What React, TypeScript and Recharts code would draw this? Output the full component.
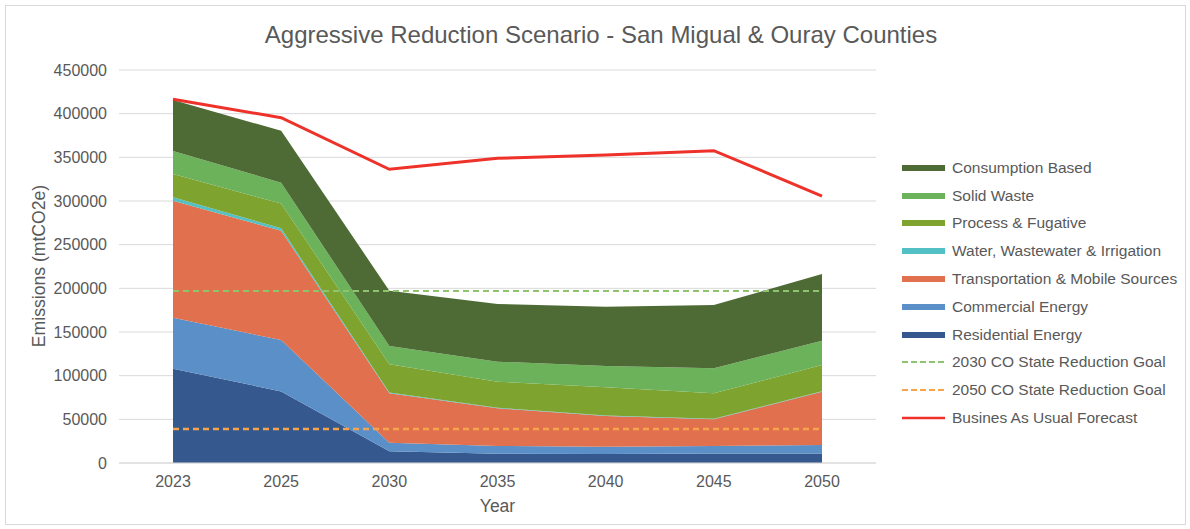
import React from "react";
import {
  ComposedChart,
  Area,
  Line,
  XAxis,
  YAxis,
  CartesianGrid,
  Legend,
  Label,
} from "recharts";

const years = ["2023", "2025", "2030", "2035", "2040", "2045", "2050"];
const residential = [108000, 82000, 13500, 10500, 10300, 11000, 11000];
const commercial = [58400, 58800, 9800, 9000, 8400, 8500, 9600];
const transportation = [133900, 125200, 56500, 43100, 35100, 30500, 61000];
const water = [4000, 2700, 800, 700, 700, 700, 700];
const processFug = [26700, 28300, 32400, 29800, 32200, 29100, 29900];
const solidWaste = [26200, 23900, 21000, 22900, 24400, 28600, 27800];
const consumption = [58500, 59400, 63300, 66000, 67900, 72500, 76400];
const bau = [416500, 395400, 336300, 348900, 352700, 357600, 305700];
const goal2030 = [197000, 197000, 197000, 197000, 197000, 197000, 197000];
const goal2050 = [39000, 39000, 39000, 39000, 39000, 39000, 39000];
const yTicks = [0, 50000, 100000, 150000, 200000, 250000, 300000, 350000, 400000, 450000];

const data = years.map((y, i) => ({
  year: y,
  residential: residential[i],
  commercial: commercial[i],
  transportation: transportation[i],
  water: water[i],
  process: processFug[i],
  solid: solidWaste[i],
  consumption: consumption[i],
  bau: bau[i],
  g2030: goal2030[i],
  g2050: goal2050[i],
}));

const FONT = '"Liberation Sans", Arial, sans-serif';
const TEXT = "#595959";

const legendItems = [
  { label: "Consumption Based", color: "#4E6B36", type: "area" },
  { label: "Solid Waste", color: "#6CB25A", type: "area" },
  { label: "Process & Fugative", color: "#7FA32F", type: "area" },
  { label: "Water, Wastewater & Irrigation", color: "#52C0C4", type: "area" },
  { label: "Transportation & Mobile Sources", color: "#E0704E", type: "area" },
  { label: "Commercial Energy", color: "#5A8FC8", type: "area" },
  { label: "Residential Energy", color: "#35598F", type: "area" },
  { label: "2030 CO State Reduction Goal", color: "#8DC46D", type: "dash" },
  { label: "2050 CO State Reduction Goal", color: "#F7A34C", type: "dash" },
  { label: "Busines As Usual Forecast", color: "#EE3129", type: "line" },
];

const renderLegend = () => (
  <div style={{ fontFamily: FONT, fontSize: 15.5, color: TEXT }}>
    {legendItems.map((it) => (
      <div
        key={it.label}
        style={{ display: "flex", alignItems: "center", height: 27.8, whiteSpace: "nowrap" }}
      >
        <svg width={46} height={10} style={{ marginRight: 5 }}>
          {it.type === "area" && <rect x={1} y={2} width={43} height={6} fill={it.color} />}
          {it.type === "dash" && (
            <line x1={1} y1={5} x2={44} y2={5} stroke={it.color} strokeWidth={2} strokeDasharray="6 3" />
          )}
          {it.type === "line" && <line x1={1} y1={5} x2={44} y2={5} stroke={it.color} strokeWidth={2.5} />}
        </svg>
        <span>{it.label}</span>
      </div>
    ))}
  </div>
);

export default function App() {
  return (
    <div
      style={{
        position: "absolute",
        left: 0,
        top: 0,
        width: 1190,
        height: 529,
        background: "#fff",
        fontFamily: FONT,
      }}
    >
      <div
        style={{
          position: "absolute",
          left: 5,
          top: 5,
          width: 1179,
          height: 518,
          border: "1px solid #D9D9D9",
        }}
      />
      <div
        style={{
          position: "absolute",
          left: 0,
          top: 21,
          width: 1202,
          textAlign: "center",
          fontSize: 24,
          color: TEXT,
        }}
      >
        Aggressive Reduction Scenario - San Migual &amp; Ouray Counties
      </div>
      <ComposedChart
        width={1190}
        height={529}
        data={data}
        margin={{ top: 70, right: 24, bottom: 0, left: 0 }}
      >
        <CartesianGrid vertical={false} stroke="#D9D9D9" strokeWidth={1} />
        <XAxis
          dataKey="year"
          padding={{ left: 54, right: 54 }}
          height={66}
          tickLine={false}
          axisLine={{ stroke: "#D9D9D9" }}
          tickMargin={7}
          tick={{ fill: TEXT, fontSize: 16, fontFamily: FONT }}
          interval={0}
        >
          <Label
            value="Year"
            position="insideBottom"
            offset={17}
            style={{ fill: TEXT, fontSize: 17.5, fontFamily: FONT }}
          />
        </XAxis>
        <YAxis
          width={119}
          domain={[0, 450000]}
          ticks={yTicks}
          tickLine={false}
          axisLine={false}
          tickMargin={6}
          tick={{ fill: TEXT, fontSize: 16, fontFamily: FONT }}
          interval={0}
        >
          <Label
            content={() => (
              <text
                x={40}
                y={266}
                transform="rotate(-90 40 266)"
                textAnchor="middle"
                dominantBaseline="middle"
                fill={TEXT}
                fontSize={17.6}
                fontFamily={FONT}
              >
                Emissions (mtCO2e)
              </text>
            )}
          />
        </YAxis>
        <Legend
          layout="vertical"
          align="right"
          verticalAlign="top"
          content={renderLegend}
          wrapperStyle={{ left: 901, top: 154, width: 290 }}
        />
        <Area type="linear" dataKey="residential" stackId="1" stroke="none" fill="#35598F" fillOpacity={1} isAnimationActive={false} />
        <Area type="linear" dataKey="commercial" stackId="1" stroke="none" fill="#5A8FC8" fillOpacity={1} isAnimationActive={false} />
        <Area type="linear" dataKey="transportation" stackId="1" stroke="none" fill="#E0704E" fillOpacity={1} isAnimationActive={false} />
        <Area type="linear" dataKey="water" stackId="1" stroke="none" fill="#52C0C4" fillOpacity={1} isAnimationActive={false} />
        <Area type="linear" dataKey="process" stackId="1" stroke="none" fill="#7FA32F" fillOpacity={1} isAnimationActive={false} />
        <Area type="linear" dataKey="solid" stackId="1" stroke="none" fill="#6CB25A" fillOpacity={1} isAnimationActive={false} />
        <Area type="linear" dataKey="consumption" stackId="1" stroke="none" fill="#4E6B36" fillOpacity={1} isAnimationActive={false} />
        <Line type="linear" dataKey="g2030" stroke="#8DC46D" strokeWidth={2} strokeDasharray="6 4" dot={false} activeDot={false} isAnimationActive={false} />
        <Line type="linear" dataKey="g2050" stroke="#F7A34C" strokeWidth={2.5} strokeDasharray="6 4" dot={false} activeDot={false} isAnimationActive={false} />
        <Line type="linear" dataKey="bau" stroke="#EE3129" strokeWidth={3} dot={false} activeDot={false} isAnimationActive={false} />
      </ComposedChart>
    </div>
  );
}
